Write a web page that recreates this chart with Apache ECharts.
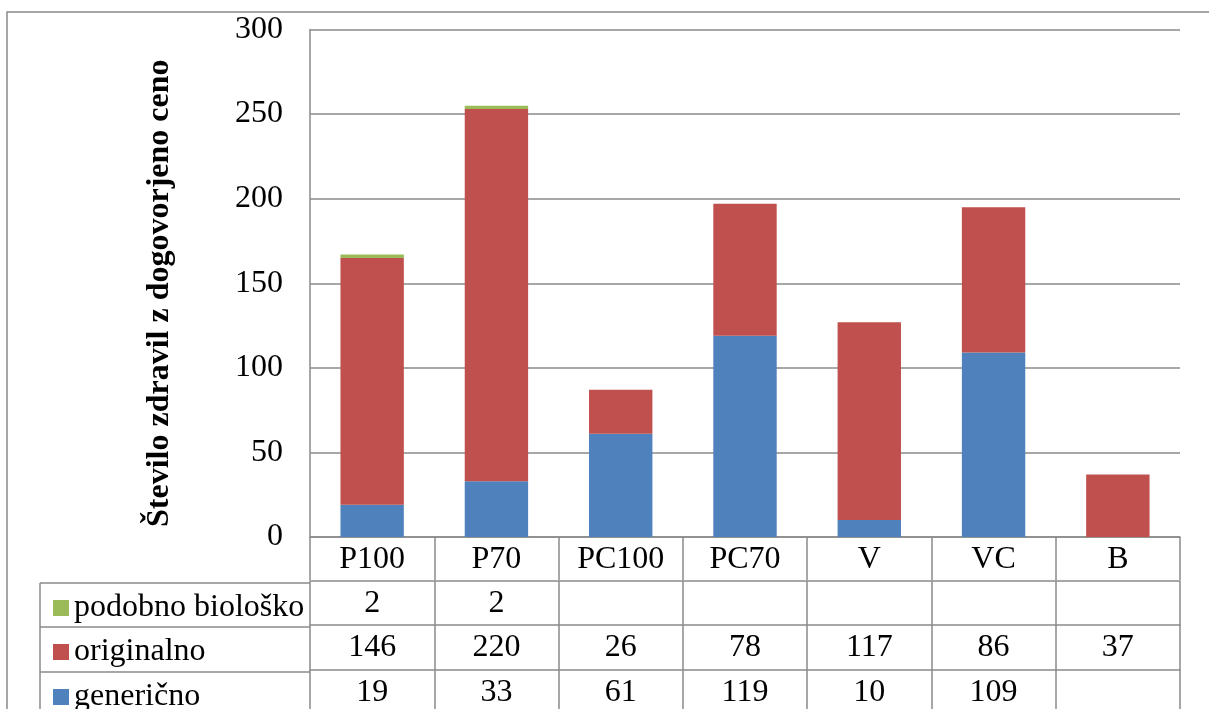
<!DOCTYPE html>
<html>
<head>
<meta charset="utf-8">
<script src="https://cdn.jsdelivr.net/npm/echarts@6/dist/echarts.min.js"></script>
<style>
  html, body { margin: 0; padding: 0; background: #fff; }
  #main { width: 1209px; height: 709px; }
</style>
</head>
<body>
<div id="main"></div>
<script>
var categories = ['P100', 'P70', 'PC100', 'PC70', 'V', 'VC', 'B']
var genericno = [19, 33, 61, 119, 10, 109, null]
var originalno = [146, 220, 26, 78, 117, 86, 37]
var podobno = [2, 2, null, null, null, null, null]
var yTicks = { min: 0, max: 300, interval: 50 }

var font = '"Liberation Serif", "Times New Roman", serif'
var gridColor = '#8a8a8a'
var colors = { gen: '#4f81bd', orig: '#c0504d', pod: '#9bbb59' }

function cells(arr) {
    return arr.map(function (v) { return v == null ? '' : String(v) })
}

// one x axis per table row; axis line = top rule, ticks = column rules
function tableAxis(data, offset, tickLen) {
    return {
        type: 'category',
        data: data,
        position: 'bottom',
        offset: offset,
        axisLine: { show: true, lineStyle: { color: gridColor, width: 1.5 } },
        axisTick: { show: true, interval: 0, length: tickLen, lineStyle: { color: gridColor, width: 1.5 } },
        axisLabel: {
            interval: 0, margin: 23,
            fontFamily: font, fontSize: 32, color: '#000',
            verticalAlign: 'middle'
        }
    }
}

function rowLegend(name, top) {
    return {
        data: [name],
        left: 48,
        top: top,
        orient: 'vertical',
        selectedMode: false,
        icon: 'rect',
        itemWidth: 16,
        itemHeight: 16,
        itemGap: 0,
        textStyle: { fontFamily: font, fontSize: 32, color: '#000' }
    }
}

var chart = echarts.init(document.getElementById('main'))

var option = {
    color: [colors.gen, colors.orig, colors.pod],
    animation: false,
    grid: { left: 310, right: 29, top: 29.5, bottom: 170, containLabel: false },
    legend: [
        rowLegend('podobno biološko', 587),
        rowLegend('originalno', 631),
        rowLegend('generično', 676)
    ],
    xAxis: [
        tableAxis(categories, 0, 43),
        tableAxis(cells(podobno), 44, 44),
        tableAxis(cells(originalno), 88, 45),
        tableAxis(cells(genericno), 133, 45)
    ],
    yAxis: {
        type: 'value',
        min: yTicks.min,
        max: yTicks.max,
        interval: yTicks.interval,
        name: 'Število zdravil z dogovorjeno ceno',
        nameLocation: 'middle',
        nameGap: 134,
        nameTextStyle: {
            fontFamily: font, fontSize: 32, fontWeight: 'bold', color: '#000',
            padding: [0, 20, 0, 0]
        },
        axisLine: { show: true, lineStyle: { color: gridColor, width: 1.5 } },
        axisTick: { show: false },
        axisLabel: { margin: 27, fontFamily: font, fontSize: 32, color: '#000' },
        splitLine: { show: true, lineStyle: { color: gridColor, width: 1.5 } }
    },
    series: [
        { name: 'generično', type: 'bar', stack: 'all', barWidth: '51%', data: genericno },
        { name: 'originalno', type: 'bar', stack: 'all', data: originalno },
        { name: 'podobno biološko', type: 'bar', stack: 'all', data: podobno }
    ],
    graphic: [
        { type: 'rect', silent: true, shape: { x: 7, y: 12, width: 1400, height: 900 },
          style: { fill: 'none', stroke: gridColor, lineWidth: 1.5 } },
        { type: 'line', shape: { x1: 40, y1: 583, x2: 310, y2: 583 }, style: { stroke: gridColor, lineWidth: 1.5 } },
        { type: 'line', shape: { x1: 40, y1: 627, x2: 310, y2: 627 }, style: { stroke: gridColor, lineWidth: 1.5 } },
        { type: 'line', shape: { x1: 40, y1: 672, x2: 310, y2: 672 }, style: { stroke: gridColor, lineWidth: 1.5 } },
        { type: 'line', shape: { x1: 40, y1: 583, x2: 40, y2: 720 }, style: { stroke: gridColor, lineWidth: 1.5 } }
    ]
}

chart.setOption(option)
</script>
</body>
</html>
